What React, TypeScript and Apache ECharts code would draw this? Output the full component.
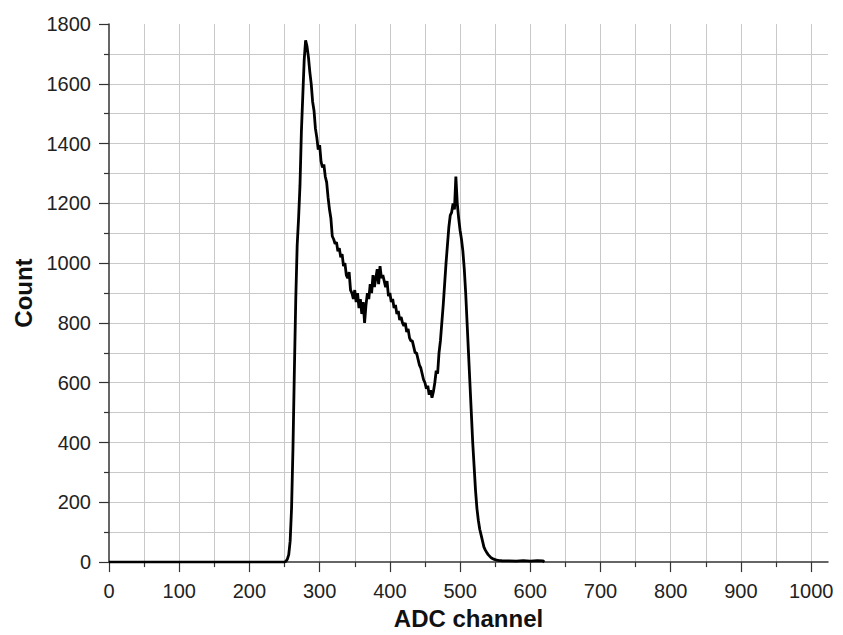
import React, { useEffect, useRef } from "react";
import * as echarts from "echarts";

// ADC channel (x) and counts (y)
const channels: number[] = [
  0, 100, 200, 250, 252, 254, 256, 258, 260, 262, 264, 266, 268, 270, 272, 274, 276, 278, 280,
  282, 284, 286, 288, 290, 292, 294, 296, 298, 300, 302, 304, 306, 308, 310,
  312, 314, 316, 318, 320, 322, 324, 326, 328, 330, 332, 334, 336, 338, 340,
  342, 344, 346, 348, 350, 352, 354, 356, 358, 360, 362, 364, 366, 368, 370,
  372, 374, 376, 378, 380, 382, 384, 386, 388, 390, 392, 394, 396, 398, 400,
  402, 404, 406, 408, 410, 412, 414, 416, 418, 420, 422, 424, 426, 428, 430,
  432, 434, 436, 438, 440, 442, 444, 446, 448, 450, 452, 454, 456, 458, 460,
  462, 464, 466, 468, 470, 472, 474, 476, 478, 480, 482, 484, 486, 488, 490,
  492, 494, 496, 498, 500, 502, 504, 506, 508, 510, 512, 514, 516, 518, 520,
  522, 524, 526, 528, 530, 532, 534, 536, 538, 540, 542, 544, 546, 548, 550,
  552, 554, 556, 558, 560, 570, 580, 590, 600, 610, 618, 620,
];

const counts: number[] = [
  0, 0, 0, 0, 3, 10, 25, 70, 180, 380, 640, 880, 1060, 1150, 1260, 1440, 1560, 1680, 1745,
  1725, 1690, 1640, 1600, 1540, 1510, 1450, 1420, 1380, 1395, 1340, 1320, 1330, 1290, 1270,
  1220, 1180, 1150, 1090, 1080, 1065, 1070, 1040, 1050, 1020, 1030, 990, 1000, 960, 950,
  970, 910, 900, 880, 910, 870, 900, 850, 880, 830, 870, 800, 860, 900, 880,
  930, 900, 960, 920, 950, 980, 930, 990, 950, 960, 940, 920, 940, 890, 900,
  870, 880, 850, 860, 830, 840, 810, 820, 800, 790, 800, 770, 780, 750, 740,
  740, 720, 700, 700, 680, 660, 650, 630, 610, 600, 580, 590, 560, 575, 550,
  570, 600, 640, 630, 700, 740, 800, 860, 930, 1000, 1060, 1120, 1160, 1170, 1200,
  1180, 1290, 1200, 1150, 1110, 1080, 1040, 980, 900, 800, 700, 600, 500, 400, 320,
  240, 180, 140, 110, 90, 70, 50, 40, 32, 25, 20, 15, 12, 10, 8,
  7, 6, 5, 5, 4, 4, 3, 5, 3, 5, 4, 0,
];

const xMajorTicks: number[] = [0, 100, 200, 300, 400, 500, 600, 700, 800, 900, 1000];
const xMinorTicks: number[] = [50, 150, 250, 350, 450, 550, 650, 750, 850, 950];

export default function App() {
  const ref = useRef<HTMLDivElement>(null);
  useEffect(() => {
    if (!ref.current) return;
    const chart = echarts.init(ref.current, undefined, { renderer: "svg" });
    const data = channels.map((c, i) => [c, counts[i]]);
    const gridColor = "#c9c9c9";
    const axisColor = "#333";
    const font = "'Liberation Sans', Arial, sans-serif";
    const plain = (v: number) => String(v);
    chart.setOption({
      animation: false,
      backgroundColor: "#fff",
      grid: { left: 109, right: 15, top: 24, bottom: 70, containLabel: false },
      xAxis: [
        {
          type: "value",
          min: 0,
          max: 1024,
          interval: 100,
          position: "bottom",
          name: "ADC channel",
          nameLocation: "middle",
          nameGap: 43,
          nameTextStyle: { fontSize: 24, fontWeight: "bold", color: "#111", fontFamily: font },
          axisLine: { show: true, lineStyle: { color: axisColor, width: 1.5 } },
          axisTick: { show: true, length: 10, customValues: xMajorTicks, lineStyle: { color: axisColor, width: 1.2 } },
          axisLabel: { customValues: xMajorTicks, formatter: plain, fontSize: 20, margin: 19, color: "#222", fontFamily: font },
          splitLine: { show: false },
          z: 3,
        },
        {
          type: "value",
          min: 0,
          max: 1024,
          interval: 50,
          position: "bottom",
          axisLine: { show: false },
          axisTick: { show: true, length: 5, customValues: xMinorTicks, lineStyle: { color: axisColor, width: 1.2 } },
          axisLabel: { show: false },
          splitLine: { show: false },
        },
        {
          type: "value",
          min: 0,
          max: 1024,
          interval: 50,
          position: "bottom",
          axisLine: { show: false },
          axisTick: { show: false },
          axisLabel: { show: false },
          splitLine: { show: true, showMaxLine: false, showMinLine: false, lineStyle: { color: gridColor, width: 1 } },
        },
      ],
      yAxis: {
        type: "value",
        min: 0,
        max: 1800,
        interval: 200,
        name: "Count",
        nameLocation: "middle",
        nameGap: 74,
        nameTextStyle: { fontSize: 24, fontWeight: "bold", color: "#111", fontFamily: font },
        axisLine: { show: true, lineStyle: { color: axisColor, width: 1.5 } },
        axisTick: { show: true, length: 10, lineStyle: { color: axisColor, width: 1.2 } },
        minorTick: { show: true, splitNumber: 2, length: 5, lineStyle: { color: axisColor, width: 1.2 } },
        axisLabel: { formatter: plain, fontSize: 20, margin: 18, color: "#222", fontFamily: font },
        splitLine: { show: true, showMaxLine: false, showMinLine: false, lineStyle: { color: gridColor, width: 1 } },
        minorSplitLine: { show: true, lineStyle: { color: gridColor, width: 1 } },
      },
      series: [
        {
          type: "line",
          xAxisIndex: 0,
          data,
          showSymbol: false,
          symbol: "none",
          lineStyle: { color: "#000", width: 2.8 },
          z: 5,
        },
      ],
    });
    return () => chart.dispose();
  }, []);
  return (
    <div
      ref={ref}
      style={{ position: "absolute", left: 0, top: 0, width: 843, height: 635, background: "#fff" }}
    />
  );
}
